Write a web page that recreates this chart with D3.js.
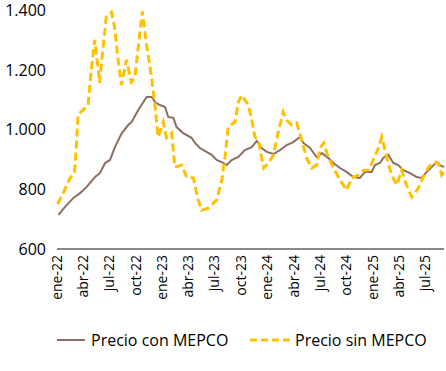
<!DOCTYPE html>
<html>
<head>
<meta charset="utf-8">
<script src="https://cdn.jsdelivr.net/npm/d3@7"></script>
<style>
    body { margin: 0; background: #ffffff; }
    svg { display: block; font-family: "Open Sans", sans-serif; }
</style>
</head>
<body>
<div id="chart"></div>
<script>
const conDates = ['2022-01-06', '2022-01-29', '2022-02-27', '2022-03-22', '2022-04-14', '2022-05-13', '2022-05-30',
    '2022-06-17', '2022-07-04', '2022-07-21', '2022-08-14', '2022-09-05', '2022-09-17', '2022-10-10', '2022-11-08',
    '2022-11-26', '2022-12-07', '2022-12-24', '2023-01-11', '2023-01-22', '2023-02-09', '2023-02-20', '2023-03-15',
    '2023-04-13', '2023-04-25', '2023-05-12', '2023-06-04', '2023-06-22', '2023-07-09', '2023-08-01', '2023-08-13',
    '2023-08-30', '2023-09-22', '2023-10-15', '2023-11-08', '2023-11-25', '2023-12-12', '2023-12-30', '2024-01-22',
    '2024-02-14', '2024-03-08', '2024-03-31', '2024-04-23', '2024-05-05', '2024-05-28', '2024-06-20', '2024-07-08',
    '2024-07-30', '2024-08-17', '2024-09-09', '2024-10-02', '2024-10-25', '2024-11-17', '2024-12-05', '2024-12-28',
    '2025-01-08', '2025-01-26', '2025-02-06', '2025-02-24', '2025-03-13', '2025-03-30', '2025-04-17', '2025-05-10',
    '2025-06-02', '2025-06-19', '2025-07-07', '2025-07-24', '2025-08-10', '2025-08-22', '2025-09-05'];
const conValues = [714, 741, 771, 787, 808, 841, 854,
    888, 898, 941, 988, 1015, 1025, 1065, 1109,
    1109, 1092, 1082, 1075, 1042, 1039, 1008, 988,
    972, 955, 938, 925, 915, 898, 888, 881,
    898, 908, 931, 941, 962, 938, 925, 918,
    931, 948, 958, 975, 955, 938, 908, 921,
    905, 888, 871, 858, 841, 838, 858, 858,
    881, 888, 905, 915, 888, 881, 864, 854,
    841, 838, 858, 874, 891, 881, 874];

const sinDates = ['2022-01-03', '2022-01-24', '2022-02-14', '2022-03-03', '2022-03-09', '2022-03-15', '2022-04-01',
    '2022-04-19', '2022-05-01', '2022-05-12', '2022-05-23', '2022-05-29', '2022-06-09', '2022-06-21', '2022-07-09',
    '2022-07-20', '2022-08-01', '2022-08-13', '2022-08-30', '2022-09-16', '2022-09-28', '2022-10-09', '2022-10-24',
    '2022-11-07', '2022-11-25', '2022-12-06', '2022-12-18', '2023-01-05', '2023-01-16', '2023-02-03', '2023-02-14',
    '2023-03-10', '2023-03-27', '2023-04-19', '2023-05-06', '2023-05-18', '2023-06-10', '2023-07-09', '2023-07-27',
    '2023-08-07', '2023-08-18', '2023-09-11', '2023-09-22', '2023-10-04', '2023-10-27', '2023-11-08', '2023-11-19',
    '2023-12-01', '2023-12-19', '2024-01-05', '2024-01-22', '2024-02-08', '2024-02-25', '2024-03-08', '2024-03-25',
    '2024-04-12', '2024-04-29', '2024-05-16', '2024-06-03', '2024-06-20', '2024-07-02', '2024-07-15', '2024-07-30',
    '2024-08-17', '2024-09-03', '2024-10-02', '2024-10-20', '2024-11-12', '2024-11-29', '2024-12-16', '2025-01-03',
    '2025-01-20', '2025-02-01', '2025-02-18', '2025-03-07', '2025-03-25', '2025-04-11', '2025-04-28', '2025-05-16',
    '2025-06-08', '2025-06-25', '2025-07-12', '2025-07-30', '2025-08-16', '2025-08-28', '2025-09-05'];
const sinValues = [750, 790, 835, 858, 941, 1049, 1065,
    1082, 1209, 1300, 1209, 1156, 1266, 1377, 1393,
    1343, 1233, 1149, 1233, 1159, 1172, 1266, 1395,
    1290, 1175, 1089, 975, 1025, 972, 988, 874,
    881, 841, 838, 764, 730, 737, 764, 831,
    908, 1008, 1025, 1092, 1115, 1082, 1032, 975,
    965, 871, 888, 915, 992, 1059, 1032, 1015,
    1022, 965, 905, 871, 881, 938, 955, 908,
    874, 841, 797, 838, 848, 864, 864, 898,
    938, 975, 908, 848, 814, 864, 814, 774,
    804, 841, 871, 891, 888, 848, 860];

const tickDates = ['2022-01-01', '2022-04-01', '2022-07-01', '2022-10-01', '2023-01-01', '2023-04-01', '2023-07-01',
    '2023-10-01', '2024-01-01', '2024-04-01', '2024-07-01', '2024-10-01', '2025-01-01', '2025-04-01', '2025-07-01'];
const tickLabels = ['ene-22', 'abr-22', 'jul-22', 'oct-22', 'ene-23', 'abr-23', 'jul-23',
    'oct-23', 'ene-24', 'abr-24', 'jul-24', 'oct-24', 'ene-25', 'abr-25', 'jul-25'];
const yTicks = [600, 800, 1000, 1200, 1400];
const seriesNames = ['Precio con MEPCO', 'Precio sin MEPCO'];

const parseDate = d3.timeParse('%Y-%m-%d');
const esLocale = d3.formatLocale({decimal: ',', thousands: '.', grouping: [3], currency: ['$', '']});
const formatY = esLocale.format(',d');

const svgWidth = 446;
const svgHeight = 371;
const brown = '#8c6f64';
const gold = '#ffc000';

const svg = d3.select('#chart').append('svg')
    .attr('width', svgWidth)
    .attr('height', svgHeight);

const xScale = d3.scaleTime()
    .domain([parseDate('2022-01-01'), parseDate('2025-09-05')])
    .range([57, 444]);
const yScale = d3.scaleLinear()
    .domain([600, 1400])
    .range([249, 10]);

// eje y: solo etiquetas
svg.append('g')
    .selectAll('text')
    .data(yTicks)
    .enter()
    .append('text')
    .attr('x', 46)
    .attr('y', d => yScale(d))
    .attr('dy', '0.36em')
    .attr('text-anchor', 'end')
    .style('font-size', '16px')
    .attr('fill', '#000')
    .text(d => formatY(d));

// eje x
svg.append('line')
    .attr('x1', xScale.range()[0])
    .attr('x2', xScale.range()[1])
    .attr('y1', yScale(600))
    .attr('y2', yScale(600))
    .attr('stroke', '#898989')
    .attr('stroke-width', 2);

svg.append('g')
    .selectAll('text')
    .data(tickDates)
    .enter()
    .append('text')
    .attr('transform', d => `translate(${xScale(parseDate(d))},255) rotate(-90)`)
    .attr('dy', '0.36em')
    .attr('text-anchor', 'end')
    .style('font-size', '14px')
    .attr('fill', '#000')
    .text((d, i) => tickLabels[i]);

const conData = conDates.map((d, i) => ({date: parseDate(d), value: conValues[i]}));
const sinData = sinDates.map((d, i) => ({date: parseDate(d), value: sinValues[i]}));

const lineGenerator = d3.line()
    .x(d => xScale(d.date))
    .y(d => yScale(d.value));

svg.append('path')
    .datum(conData)
    .attr('fill', 'none')
    .attr('stroke', brown)
    .attr('stroke-width', 2)
    .attr('d', lineGenerator);

svg.append('path')
    .datum(sinData)
    .attr('fill', 'none')
    .attr('stroke', gold)
    .attr('stroke-width', 3)
    .attr('stroke-dasharray', '8,4')
    .attr('d', lineGenerator);

// leyenda
const legend = svg.append('g');
legend.append('line')
    .attr('x1', 57).attr('x2', 85)
    .attr('y1', 340).attr('y2', 340)
    .attr('stroke', brown)
    .attr('stroke-width', 2);
legend.append('text')
    .attr('x', 91).attr('y', 340)
    .attr('dy', '0.36em')
    .style('font-size', '16px')
    .text(seriesNames[0]);
legend.append('line')
    .attr('x1', 250).attr('x2', 290)
    .attr('y1', 340).attr('y2', 340)
    .attr('stroke', gold)
    .attr('stroke-width', 3)
    .attr('stroke-dasharray', '7,4');
legend.append('text')
    .attr('x', 295).attr('y', 340)
    .attr('dy', '0.36em')
    .style('font-size', '16px')
    .text(seriesNames[1]);
</script>
</body>
</html>
